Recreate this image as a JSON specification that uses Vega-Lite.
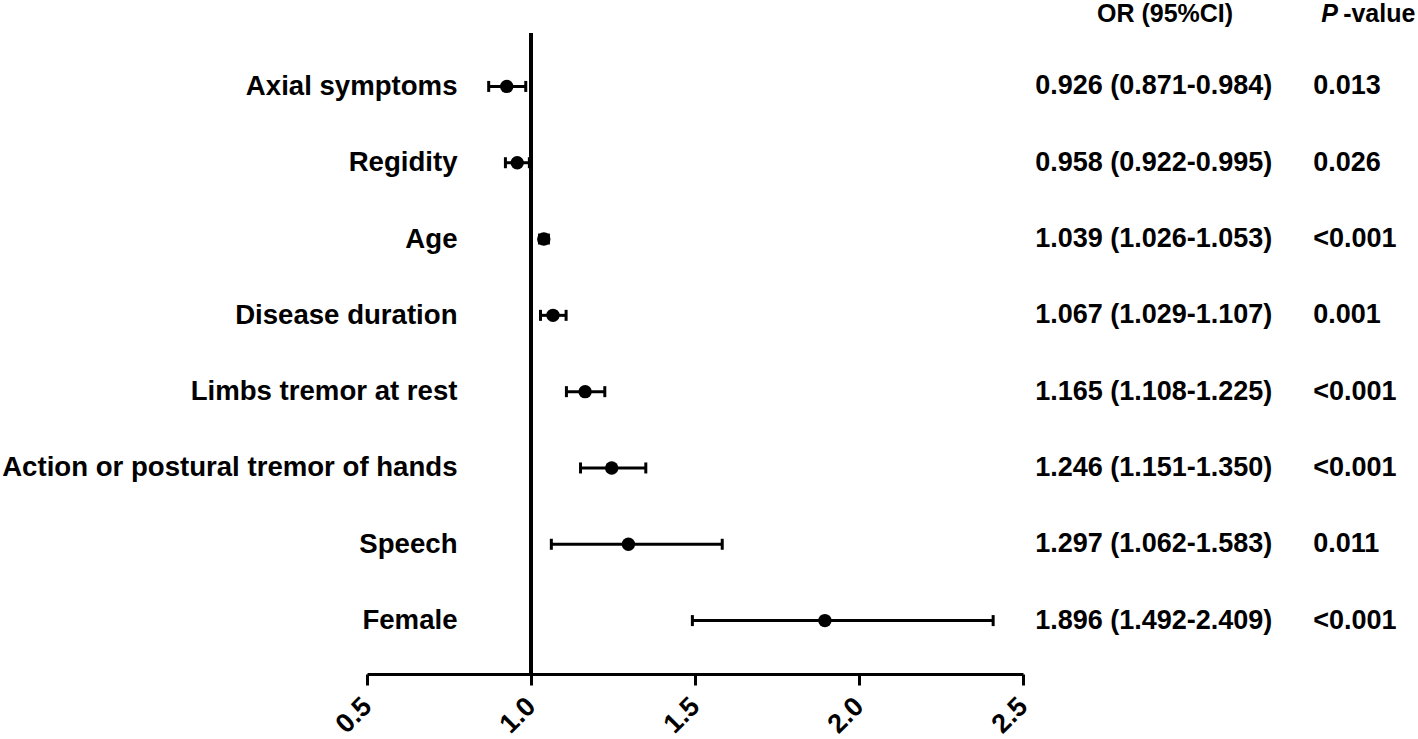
{
  "$schema": "https://vega.github.io/schema/vega-lite/v6.json",
  "width": 656,
  "height": 641,
  "autosize": {"type": "none"},
  "padding": {"left": 367, "top": 33, "right": 395, "bottom": 65},
  "background": "white",
  "config": {
    "view": {"stroke": null},
    "font": "Liberation Sans",
    "text": {"font": "Liberation Sans"}
  },
  "data": {
    "values": [
      {"label": "Axial symptoms", "or": 0.926, "lo": 0.871, "hi": 0.984, "ci": "0.926 (0.871-0.984)", "p": "0.013"},
      {"label": "Regidity", "or": 0.958, "lo": 0.922, "hi": 0.995, "ci": "0.958 (0.922-0.995)", "p": "0.026"},
      {"label": "Age", "or": 1.039, "lo": 1.026, "hi": 1.053, "ci": "1.039 (1.026-1.053)", "p": "<0.001"},
      {"label": "Disease duration", "or": 1.067, "lo": 1.029, "hi": 1.107, "ci": "1.067 (1.029-1.107)", "p": "0.001"},
      {"label": "Limbs tremor at rest", "or": 1.165, "lo": 1.108, "hi": 1.225, "ci": "1.165 (1.108-1.225)", "p": "<0.001"},
      {"label": "Action or postural tremor of hands", "or": 1.246, "lo": 1.151, "hi": 1.35, "ci": "1.246 (1.151-1.350)", "p": "<0.001"},
      {"label": "Speech", "or": 1.297, "lo": 1.062, "hi": 1.583, "ci": "1.297 (1.062-1.583)", "p": "0.011"},
      {"label": "Female", "or": 1.896, "lo": 1.492, "hi": 2.409, "ci": "1.896 (1.492-2.409)", "p": "<0.001"}
    ]
  },
  "layer": [
    {
      "mark": {"type": "rule", "strokeWidth": 3, "color": "black"},
      "encoding": {
        "x": {
          "datum": 1,
          "type": "quantitative",
          "scale": {"domain": [0.5, 2.5], "zero": false, "nice": false},
          "axis": {
            "values": [0.5, 1, 1.5, 2, 2.5],
            "format": ".1f",
            "title": null,
            "grid": false,
            "labelAngle": -45,
            "labelAlign": "right",
            "labelBaseline": "middle",
            "labelPadding": 17,
            "labelFontSize": 27,
            "labelFontWeight": "bold",
            "labelColor": "black",
            "tickSize": 11,
            "tickWidth": 3,
            "tickColor": "black",
            "domainWidth": 3,
            "domainColor": "black",
            "labelFont": "Liberation Sans"
          }
        }
      }
    },
    {
      "mark": {"type": "rule", "strokeWidth": 3, "color": "black"},
      "encoding": {
        "x": {"field": "lo", "type": "quantitative"},
        "x2": {"field": "hi"},
        "y": {
          "field": "label",
          "type": "nominal",
          "sort": null,
          "scale": {"type": "point", "padding": 0.7},
          "axis": {
            "title": null,
            "domain": false,
            "ticks": false,
            "labelPadding": -90,
            "labelFontSize": 27.6,
            "labelFontWeight": "bold",
            "labelColor": "black",
            "labelLimit": 700,
            "labelFont": "Liberation Sans"
          }
        }
      }
    },
    {
      "mark": {"type": "tick", "thickness": 3, "size": 11, "color": "black", "opacity": 1},
      "encoding": {
        "x": {"field": "lo", "type": "quantitative"},
        "y": {"field": "label", "type": "nominal", "sort": null}
      }
    },
    {
      "mark": {"type": "tick", "thickness": 3, "size": 11, "color": "black", "opacity": 1},
      "encoding": {
        "x": {"field": "hi", "type": "quantitative"},
        "y": {"field": "label", "type": "nominal", "sort": null}
      }
    },
    {
      "mark": {"type": "circle", "size": 180, "color": "black", "opacity": 1},
      "encoding": {
        "x": {"field": "or", "type": "quantitative"},
        "y": {"field": "label", "type": "nominal", "sort": null}
      }
    },
    {
      "mark": {"type": "text", "align": "left", "baseline": "middle", "fontSize": 27, "fontWeight": "bold", "color": "black"},
      "encoding": {
        "x": {"datum": 2.537, "type": "quantitative"},
        "y": {"field": "label", "type": "nominal", "sort": null},
        "text": {"field": "ci"}
      }
    },
    {
      "mark": {"type": "text", "align": "left", "baseline": "middle", "fontSize": 27, "fontWeight": "bold", "color": "black"},
      "encoding": {
        "x": {"datum": 3.385, "type": "quantitative"},
        "y": {"field": "label", "type": "nominal", "sort": null},
        "text": {"field": "p"}
      }
    },
    {
      "data": {"values": [{"h": "OR (95%CI)", "row": "Axial symptoms"}]},
      "mark": {"type": "text", "align": "center", "baseline": "middle", "fontSize": 25, "fontWeight": "bold", "color": "black", "dy": -72},
      "encoding": {
        "x": {"datum": 2.933, "type": "quantitative"},
        "y": {"field": "row", "type": "nominal", "sort": null},
        "text": {"field": "h"}
      }
    },
    {
      "data": {"values": [{"h": "P", "row": "Axial symptoms"}]},
      "mark": {"type": "text", "align": "left", "baseline": "middle", "fontSize": 25, "fontWeight": "bold", "fontStyle": "italic", "color": "black", "dy": -72},
      "encoding": {
        "x": {"datum": 3.409, "type": "quantitative"},
        "y": {"field": "row", "type": "nominal", "sort": null},
        "text": {"field": "h"}
      }
    },
    {
      "data": {"values": [{"h": "-value", "row": "Axial symptoms"}]},
      "mark": {"type": "text", "align": "left", "baseline": "middle", "fontSize": 25, "fontWeight": "bold", "color": "black", "dy": -72},
      "encoding": {
        "x": {"datum": 3.476, "type": "quantitative"},
        "y": {"field": "row", "type": "nominal", "sort": null},
        "text": {"field": "h"}
      }
    }
  ]
}
